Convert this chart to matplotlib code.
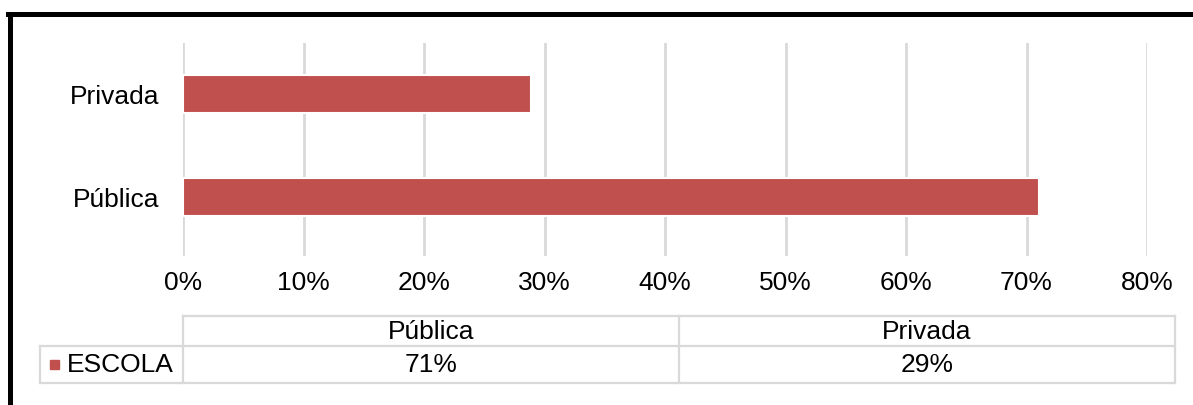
import matplotlib
matplotlib.use("Agg")
import matplotlib.pyplot as plt
from matplotlib.patches import Rectangle
from matplotlib.lines import Line2D
from matplotlib.ticker import PercentFormatter

# data
categories = ["Pública", "Privada"]
escola = [0.71, 0.289]
series_name = "ESCOLA"
xticks = [0, 0.1, 0.2, 0.3, 0.4, 0.5, 0.6, 0.7, 0.8]

plt.rcParams['font.family'] = ['Liberation Sans', 'DejaVu Sans']
FS = 19
BAR = "#c0504d"
GRID = "#d9d9d9"

W, H = 1193, 405
fig = plt.figure(figsize=(W / 100, H / 100), dpi=100)

# main bar axes
left, right, top, bottom = 183, 1147, 43, 256
ax = fig.add_axes([left / W, 1 - bottom / H, (right - left) / W, (bottom - top) / H])
ypos = list(range(len(categories)))
ax.barh(ypos, escola, height=0.37, color=BAR, edgecolor="white", linewidth=1.5, zorder=3)
ax.set_xlim(0, 0.8)
ax.set_ylim(-0.57, 1.5)
ax.set_xticks(xticks)
ax.xaxis.set_major_formatter(PercentFormatter(1.0, decimals=0))
ax.set_yticks(ypos)
ax.set_yticklabels(categories)
ax.tick_params(axis="both", length=0, labelsize=FS, colors="black")
ax.tick_params(axis="x", pad=11)
ax.tick_params(axis="y", pad=17)
ax.grid(axis="x", color=GRID, linewidth=2, zorder=0)
for s in ax.spines.values():
    s.set_visible(False)

# overlay in pixel coords for the data table and frame
ov = fig.add_axes([0, 0, 1, 1])
ov.set_xlim(0, W)
ov.set_ylim(H, 0)
ov.axis("off")

# black frame (top and left only, cropped)
ov.add_line(Line2D([10, 10], [13.5, H], color="black", linewidth=3.6))
ov.add_line(Line2D([8, W], [13.5, 13.5], color="black", linewidth=3.6))

# data table
t_left, t_mid, t_right = 183, 679, 1175
r0, r1, r2 = 316, 346, 383
legend_left = 40
lw = 1.6
def hl(x0, x1, y):
    ov.add_line(Line2D([x0, x1], [y, y], color=GRID, linewidth=lw))
def vl(x, y0, y1):
    ov.add_line(Line2D([x, x], [y0, y1], color=GRID, linewidth=lw))

hl(t_left, t_right, r0)
hl(legend_left, t_right, r1)
hl(legend_left, t_right, r2)
vl(legend_left, r1, r2)
vl(t_left, r0, r2)
vl(t_mid, r0, r2)
vl(t_right, r0, r2)

cols = [(t_left + t_mid) / 2, (t_mid + t_right) / 2]
for cx, cat, v in zip(cols, categories, escola):
    ov.text(cx, (r0 + r1) / 2 + 1, cat, ha="center", va="center", fontsize=FS)
    ov.text(cx, (r1 + r2) / 2 + 1, f"{round(v * 100):.0f}%", ha="center", va="center", fontsize=FS)

ov.add_patch(Rectangle((50, 360), 9, 9, color=BAR))
ov.text(67, (r1 + r2) / 2 + 1, series_name, ha="left", va="center", fontsize=FS)

fig.savefig("out.png", dpi=100)
